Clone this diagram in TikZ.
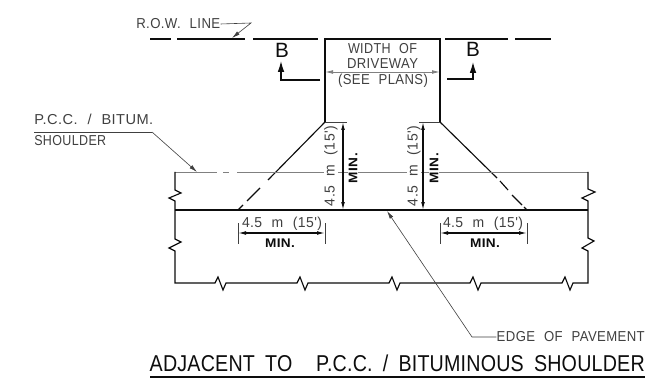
\documentclass[tikz,border=0pt]{standalone}
\usepackage{fontspec}
\setmainfont{Liberation Sans}
\newfontfamily\cad[WordSpace=2.2,LetterSpace=3]{Liberation Sans}
\newfontfamily\cadt[WordSpace=1.8,LetterSpace=1]{Liberation Sans}
\usetikzlibrary{arrows.meta}
\definecolor{ink}{gray}{0.05}
\definecolor{txt}{gray}{0.25}
\newlength\pxu
\setlength\pxu{0.75pt}
\newcommand{\fw}[2]{\resizebox{#1\pxu}{\height}{#2}}
\tikzset{
  x=0.75pt,y=-0.75pt,
  heavy/.style={draw=ink,line width=1.5pt},
  med/.style={draw=ink,line width=0.85pt},
  thin line/.style={draw=txt,line width=0.45pt},
  grayline/.style={draw=black!50,line width=0.6pt},
  tip/.style={-{Latex[length=6pt,width=3pt]}},
  bigtip/.style={-{Latex[length=9pt,width=5pt]}},
  tips/.style={{Latex[length=6pt,width=2.8pt]}-{Latex[length=6pt,width=2.8pt]}},
  lab/.style={inner sep=0pt,text=txt,font=\cad\fontsize{10.8}{11}\selectfont},
  minlab/.style={inner sep=0pt,text=ink,font=\cad\bfseries\fontsize{9.4}{10}\selectfont},
  secl/.style={inner sep=0pt,text=ink,font=\fontsize{15.5}{16}\selectfont},
  titl/.style={inner sep=0pt,text=ink,font=\cadt\fontsize{17.2}{18}\selectfont},
}
\begin{document}
\begin{tikzpicture}
\useasboundingbox (0,0) rectangle (653,381);
\fill[white] (0,0) rectangle (653,381);
% R.O.W. line
\coordinate (r1) at (150,39); \coordinate (r2) at (171,39);
\coordinate (r3) at (177,39); \coordinate (r4) at (245,39);
\coordinate (r5) at (253,39); \coordinate (r6) at (318,39);
\coordinate (r7) at (445,39); \coordinate (r8) at (508,39);
\coordinate (r9) at (515,39); \coordinate (r10) at (551,39);
\draw[med] (r1)--(r2) (r3)--(r4) (r5)--(r6) (r7)--(r8) (r9)--(r10);
% driveway
\coordinate (bl) at (325,122); \coordinate (tl) at (325,39);
\coordinate (tr) at (440,39); \coordinate (br) at (440,122);
\draw[med] (bl)--(tl)--(tr)--(br);
\coordinate (ls) at (268,180); \coordinate (ld1) at (260,188); \coordinate (ld2) at (247,201);
\coordinate (ld3) at (243,205); \coordinate (le) at (238,210);
\coordinate (rs) at (497,178); \coordinate (rd1) at (500,181); \coordinate (rd2) at (508,190);
\coordinate (rd3) at (512,195); \coordinate (rd4) at (522,205);
\coordinate (rd5) at (524,207); \coordinate (re) at (527,210);
\draw[med] (bl)--(ls) (ld1)--(ld2) (ld3)--(le);
\draw[med] (br)--(rs) (rd1)--(rd2) (rd3)--(rd4) (rd5)--(re);
% width dimension
\coordinate (wl) at (325,72); \coordinate (wr) at (440,72);
\draw[grayline,tips] (wl)--(wr);
% section marks
\node[secl] (bA) at (282,50) {B};
\node[secl] (bB) at (473,49) {B};
\coordinate (sa1) at (320,80); \coordinate (sa2) at (281,80); \coordinate (sa3) at (281,60);
\coordinate (sb1) at (447,79); \coordinate (sb2) at (473,79); \coordinate (sb3) at (473,61);
\draw[heavy,bigtip] (sa1)--(sa2)--(sa3);
\draw[heavy,bigtip] (sb1)--(sb2)--(sb3);
% pavement and shoulder
\coordinate (sl) at (175,172); \coordinate (sr) at (588,172);
\coordinate (sg1) at (217,172); \coordinate (sg2) at (223,172);
\coordinate (sg3) at (229,172); \coordinate (sg4) at (237,172);
\coordinate (el) at (175,210); \coordinate (er) at (588,210);
\draw[grayline] (sl)--(sg1) (sg2)--(sg3) (sg4)--(sr);
\draw[heavy] (el)--(er);
% outer outline with breaks
\draw[med] (sl)--(175,190)--(181,193)--(169,198)--(175,201)--(175,239)--(181,242)--(169,248)--(175,251)--(175,283)
  --(215,283)--(218,277)--(223,290)--(226,283)
  --(297,283)--(300,277)--(305,290)--(308,283)
  --(389,283)--(392,277)--(397,290)--(400,283)
  --(470,283)--(473,277)--(478,290)--(481,283)
  --(562,283)--(565,277)--(570,290)--(573,283)
  --(588,283)--(588,251)--(582,248)--(594,241)--(588,238)--(588,201)--(582,198)--(595,192)--(588,189)--(sr);
% vertical dimensions
\coordinate (d1t) at (343,122); \coordinate (d1b) at (343,210);
\coordinate (d2t) at (423,122); \coordinate (d2b) at (423,210);
\draw[thin line] (325,122)--(347,122) (419,122)--(440,122);
\draw[med,tips] (d1t)--(d1b);
\draw[med,tips] (d2t)--(d2b);
\node[lab,rotate=90,fill=white,inner xsep=1pt] (v1) at (331,166) {\fw{80}{4.5 m (15')}};
\node[lab,rotate=90,fill=white,inner xsep=1pt] (v2) at (414,166) {\fw{80}{4.5 m (15')}};
\node[minlab,rotate=90,fill=white,inner ysep=0.5pt] (m1) at (353,168) {\fw{30}{MIN.}};
\node[minlab,rotate=90,fill=white,inner ysep=0.5pt] (m2) at (434,168) {\fw{30}{MIN.}};
% horizontal dimensions
\coordinate (h1l) at (238,233); \coordinate (h1r) at (325,233);
\coordinate (h2l) at (440,233); \coordinate (h2r) at (527,233);
\draw[thin line] (238,223)--(238,244) (325,223)--(325,244) (440,223)--(440,244) (527,223)--(527,244);
\draw[med,tips] (h1l)--(h1r);
\draw[med,tips] (h2l)--(h2r);
\node[lab] (t1) at (282,224) {\fw{80}{4.5 m (15')}};
\node[lab] (t2) at (483,224) {\fw{80}{4.5 m (15')}};
\node[minlab] (m3) at (280,243) {\fw{30}{MIN.}};
\node[minlab] (m4) at (485,243) {\fw{30}{MIN.}};
% driveway text
\node[lab,fill=white,inner ysep=0.5pt] (w1) at (382.5,49) {\fw{69}{WIDTH OF}};
\node[lab,fill=white,inner ysep=0.5pt] (w2) at (382.5,64) {\fw{71}{DRIVEWAY}};
\node[lab,fill=white,inner ysep=0.5pt] (w3) at (383,81) {\fw{90}{(SEE PLANS)}};
% labels and leaders
\node[lab,anchor=west] (row) at (136,24) {\fw{84}{R.O.W.\ LINE}};
\coordinate (rowk) at (251,23); \coordinate (rowt) at (232,38);
\draw[thin line,tip] (row.east)--(rowk)--(rowt);
\node[lab,anchor=west] (pcc) at (34,119) {\fw{119}{P.C.C. / BITUM.}};
\node[lab,anchor=west] (sho) at (34,141) {\fw{72}{SHOULDER}};
\coordinate (u1) at (34,132); \coordinate (u2) at (152,132); \coordinate (ut) at (197,172);
\draw[thin line] (u1)--(u2);
\draw[thin line,tip] (u2)--(ut);
\node[lab,anchor=east] (edge) at (645,337) {\fw{148}{EDGE OF PAVEMENT}};
\coordinate (ek) at (472,337); \coordinate (et) at (387,211);
\draw[thin line,tip] (edge.west)--(ek)--(et);
% title
\node[titl,anchor=east] (title) at (645,363) {\fw{495}{ADJACENT TO\hspace{12pt} P.C.C. / BITUMINOUS SHOULDER}};
\coordinate (tu1) at (150,377); \coordinate (tu2) at (645,377);
\draw[med] (tu1)--(tu2);
\end{tikzpicture}
\end{document}
